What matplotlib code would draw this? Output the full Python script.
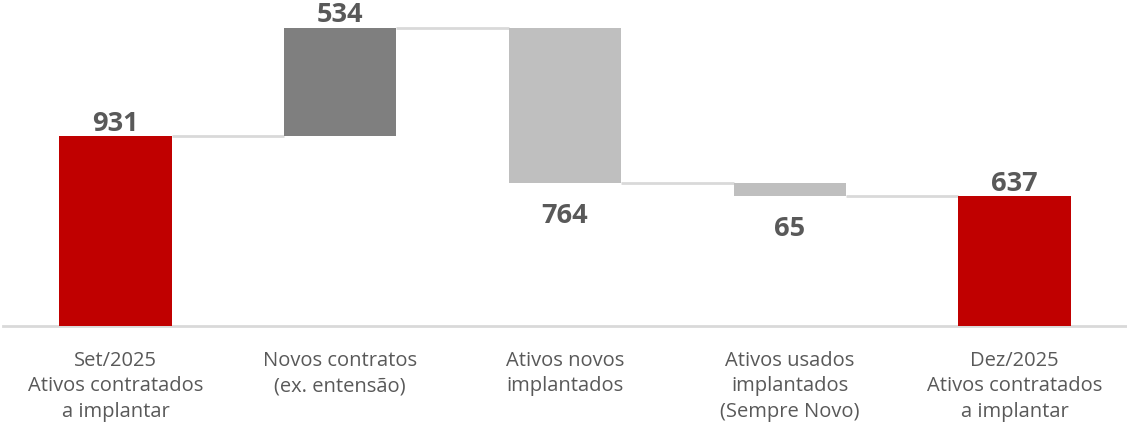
import matplotlib.pyplot as plt

categories = ["Set/2025\nAtivos contratados\na implantar",
              "Novos contratos\n(ex. entensão)",
              "Ativos novos\nimplantados",
              "Ativos usados\nimplantados\n(Sempre Novo)",
              "Dez/2025\nAtivos contratados\na implantar"]
values = [931, 534, -764, -65, 637]
kinds = ["total", "delta", "delta", "delta", "total"]

RED = "#c00000"
UP = "#7f7f7f"
DOWN = "#bfbfbf"
TXT = "#595959"
LINE = "#d9d9d9"

plt.rcParams['font.family'] = ['Open Sans', 'DejaVu Sans']

fig = plt.figure(figsize=(11.27, 4.33), dpi=100)
ax = fig.add_axes([3 / 1127, 1 - 326 / 433, 1 - 3 / 1127, 326 / 433])

width = 0.5
running = 0
bottoms, heights, colors, tops = [], [], [], []
for v, k in zip(values, kinds):
    if k == "total":
        bottoms.append(0)
        heights.append(v)
        colors.append(RED)
        running = v
    else:
        start = running
        running = running + v
        bottoms.append(min(start, running))
        heights.append(abs(v))
        colors.append(UP if v > 0 else DOWN)
    tops.append(running)

x = list(range(len(values)))
ax.bar(x, heights, bottom=bottoms, width=width, color=colors, zorder=3)

# connectors
for i in range(len(values) - 1):
    ax.plot([i + width / 2, i + 1 - width / 2], [tops[i], tops[i]],
            color=LINE, lw=2, zorder=2, solid_capstyle='butt')

# value labels
for i, (v, b, h) in enumerate(zip(values, bottoms, heights)):
    if v >= 0:
        ax.annotate(f"{abs(v)}", (i, b + h), xytext=(0, 4), textcoords="offset points",
                    ha="center", va="baseline", fontsize=19.5, fontweight="bold",
                    color=TXT, annotation_clip=False)
    else:
        ax.annotate(f"{abs(v)}", (i, b), xytext=(0, -14), textcoords="offset points",
                    ha="center", va="top", fontsize=19.5, fontweight="bold", color=TXT)

ax.set_xlim(-0.5, len(values) - 0.5)
ax.set_ylim(0, 1600)
ax.set_xticks(x)
ax.set_xticklabels(categories, fontsize=14.5, color=TXT, linespacing=1.36)
ax.tick_params(axis='x', length=0, pad=18)
ax.set_yticks([])
for s in ["top", "right", "left"]:
    ax.spines[s].set_visible(False)
ax.spines["bottom"].set_color(LINE)
ax.spines["bottom"].set_linewidth(2)

fig.savefig("out.png", dpi=100)
